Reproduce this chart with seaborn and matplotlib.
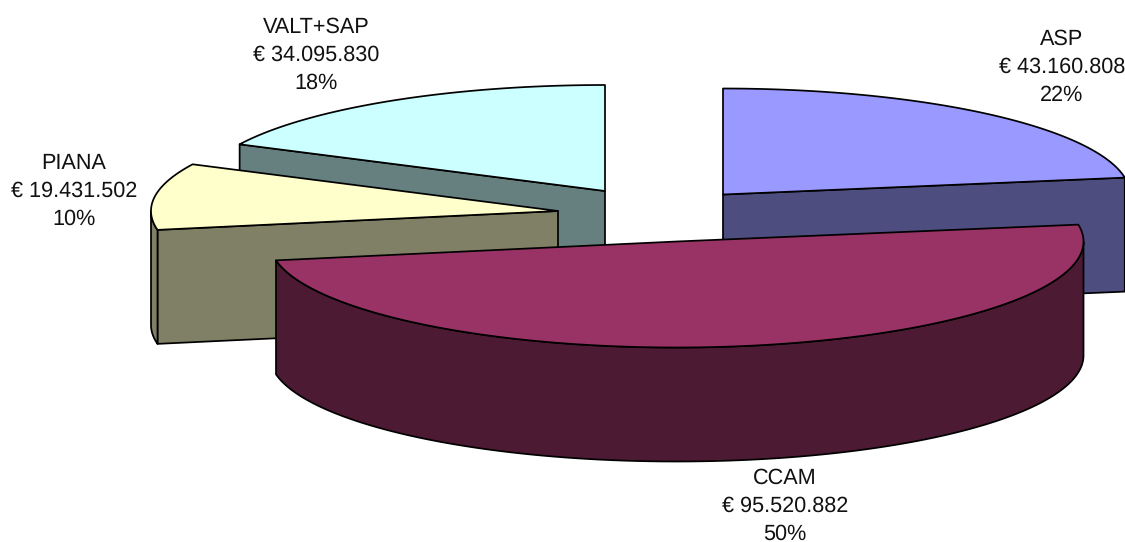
import numpy as np
import seaborn as sns
import matplotlib.pyplot as plt

names = ['ASP', 'CCAM', 'PIANA', 'VALT+SAP']
amounts = [43160808, 95520882, 19431502, 34095830]
top_colors = ['#9999FF', '#993366', '#FFFFCC', '#CCFFFF']

# exploded centre of every slice, pixels
centres = [(723, 194.5), (676.5, 241.5), (558, 211), (605, 191)]
label_pos = [(1062, 67), (785, 506), (74, 191), (316, 55)]
rx, ry, depth = 407, 106, 114


def arc(c, a0, a1, n=200):
    t = np.radians(np.linspace(a0, a1, n))
    return c[0] + rx * np.sin(t), c[1] - ry * np.cos(t)


def wall(ax, x, y, color):
    xs = np.r_[x, x[::-1]]
    ys = np.r_[y, y[::-1] + depth]
    ax.fill(xs, ys, facecolor=color, edgecolor='black', lw=1.25, joinstyle='round')


sns.set_theme(style='white')
plt.rcParams['font.family'] = ['Liberation Sans', 'DejaVu Sans']
plt.rcParams['text.hinting'] = 'none'

fig = plt.figure(figsize=(11.25, 5.42), dpi=100)
ax = fig.add_axes([0, 0, 1, 1])
ax.set_xlim(0, 1125)
ax.set_ylim(542, 0)
ax.axis('off')

total = sum(amounts)
sweeps = np.array(amounts) / total * 360
starts = np.r_[0, np.cumsum(sweeps)[:-1]]
palette = sns.color_palette(top_colors)

# back slices first, CCAM sits in front of everything
for i in [3, 0, 2, 1]:
    c = centres[i]
    a0, a1 = starts[i], starts[i] + sweeps[i]
    side = tuple(v / 2 for v in palette[i])

    # cut faces turned to the viewer
    for a in (a0, a1):
        if 0 < a < 180 and a == a1 or 180 < a < 360 and a == a0:
            ex, ey = arc(c, a, a, 1)
            wall(ax, np.array([c[0], ex[0]]), np.array([c[1], ey[0]]), side)

    # outer rim, only the lower half of the ellipse shows
    lo, hi = max(a0, 90), min(a1, 270)
    if lo < hi:
        x, y = arc(c, lo, hi)
        wall(ax, x, y, side)

    x, y = arc(c, a0, a1)
    ax.fill(np.r_[c[0], x], np.r_[c[1], y], facecolor=palette[i],
            edgecolor='black', lw=1.25, joinstyle='round')

for name, amount, pos in zip(names, amounts, label_pos):
    money = f'{amount:,}'.replace(',', '.')
    pct = round(amount / total * 100)
    ax.text(pos[0], pos[1], f'{name}\n€ {money}\n{pct}%', ha='center', va='center',
            fontsize=15.6, color='#111111', linespacing=1.47, clip_on=False)

plt.savefig('out.png', dpi=100)
